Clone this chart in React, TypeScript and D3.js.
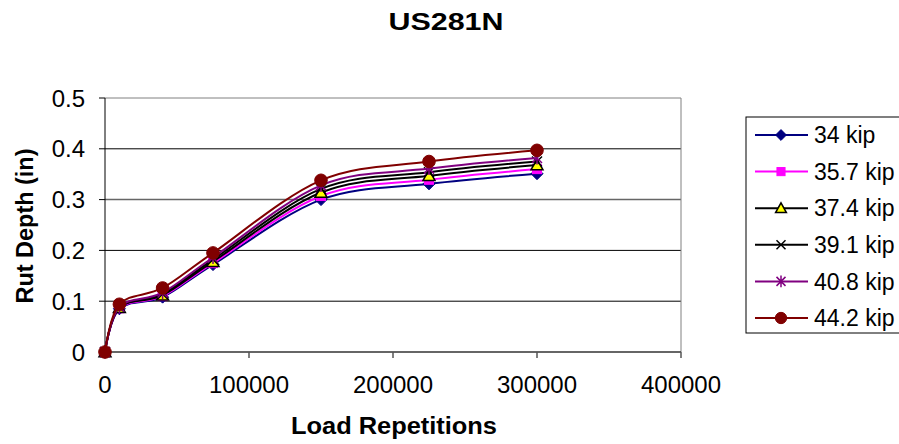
import React from "react";
import * as d3 from "d3";

const chartTitle = "US281N";
const xTitle = "Load Repetitions";
const yTitle = "Rut Depth (in)";
const reps = [0, 10000, 40000, 75000, 150000, 225000, 300000];
const seriesNames = ["34 kip", "35.7 kip", "37.4 kip", "39.1 kip", "40.8 kip", "44.2 kip"];
const kip34 = [0, 0.085, 0.108, 0.172, 0.3, 0.331, 0.351];
const kip357 = [0, 0.086, 0.11, 0.175, 0.307, 0.339, 0.36];
const kip374 = [0, 0.087, 0.112, 0.178, 0.314, 0.347, 0.368];
const kip391 = [0, 0.088, 0.114, 0.182, 0.321, 0.354, 0.375];
const kip408 = [0, 0.089, 0.117, 0.186, 0.328, 0.361, 0.382];
const kip442 = [0, 0.094, 0.126, 0.195, 0.338, 0.375, 0.397];
const xTicks = [0, 100000, 200000, 300000, 400000];
const yTicks = [0, 0.1, 0.2, 0.3, 0.4, 0.5];

const seriesValues = [kip34, kip357, kip374, kip391, kip408, kip442];
const lineColors = ["#000080", "#FF00FF", "#000000", "#000000", "#800080", "#800000"];
const markerTypes = ["diamond", "square", "triangle", "x", "star", "circle"];

const W = 899;
const H = 444;
const FONT = "'Liberation Sans', Arial, sans-serif";

function Marker({ type, x, y, color, s = 1 }: { type: string; x: number; y: number; color: string; s?: number }) {
  if (type === "diamond") {
    const r = 6 * s;
    return <path d={`M${x},${y - r}L${x + r},${y}L${x},${y + r}L${x - r},${y}Z`} fill={color} stroke={color} strokeWidth={1} />;
  }
  if (type === "square") {
    const r = 4.5 * s;
    return <rect x={x - r} y={y - r} width={2 * r} height={2 * r} fill={color} stroke={color} strokeWidth={1} />;
  }
  if (type === "triangle") {
    const r = 6 * s;
    return <path d={`M${x},${y - r}L${x + r},${y + r * 0.8}L${x - r},${y + r * 0.8}Z`} fill="#FFFF00" stroke="#000000" strokeWidth={1.5} />;
  }
  if (type === "x") {
    const r = 5 * s;
    return <path d={`M${x - r},${y - r}L${x + r},${y + r}M${x - r},${y + r}L${x + r},${y - r}`} stroke={color} strokeWidth={1.5} fill="none" />;
  }
  if (type === "star") {
    const r = 5 * s;
    return (
      <path
        d={`M${x - r},${y - r}L${x + r},${y + r}M${x - r},${y + r}L${x + r},${y - r}M${x},${y - r * 1.3}L${x},${y + r * 1.3}`}
        stroke={color}
        strokeWidth={1.5}
        fill="none"
      />
    );
  }
  const r = 6.3 * s;
  return <circle cx={x} cy={y} r={r} fill={color} stroke={color} strokeWidth={1} />;
}

export default function App() {
  const left = 105;
  const right = 681;
  const top = 98;
  const bottom = 352;
  const x = d3.scaleLinear().domain([0, 400000]).range([left, right]);
  const y = d3.scaleLinear().domain([0, 0.5]).range([bottom, top]);
  const line = d3
    .line<number>()
    .x((_, i) => x(reps[i]))
    .y((d) => y(d))
    .curve(d3.curveCatmullRom.alpha(0));

  const legendX = 746;
  const legendY = 117;
  const rowH = 36.6;

  return (
    <svg width={W} height={H} style={{ position: "absolute", left: 0, top: 0, background: "#fff" }} fontFamily={FONT}>
      <rect x={0} y={0} width={W} height={H} fill="#fff" />
      <text x={446} y={30} textAnchor="middle" fontSize={23} fontWeight="bold" textLength={115} lengthAdjust="spacingAndGlyphs">
        {chartTitle}
      </text>

      {/* gridlines */}
      {yTicks.slice(1).map((t) => (
        <line key={t} x1={left} x2={right} y1={y(t)} y2={y(t)} stroke={t === 0.5 ? "#808080" : t === 0.3 ? "#666" : "#000"} strokeWidth={t === 0.3 ? 1.5 : 1} />
      ))}
      <line x1={right} x2={right} y1={top} y2={bottom} stroke="#808080" strokeWidth={1} />

      {/* axes */}
      <line x1={left} x2={left} y1={top} y2={bottom} stroke="#000" strokeWidth={1} />
      <line x1={left} x2={right} y1={bottom} y2={bottom} stroke="#333" strokeWidth={1.5} />
      {yTicks.map((t) => (
        <g key={t}>
          <line x1={left - 6} x2={left} y1={y(t)} y2={y(t)} stroke="#000" />
          <text x={85} y={y(t)} dy="0.36em" textAnchor="end" fontSize={24}>
            {d3.format("")(t)}
          </text>
        </g>
      ))}
      {xTicks.map((t) => (
        <g key={t}>
          <line x1={x(t)} x2={x(t)} y1={bottom} y2={bottom + 6} stroke="#555" strokeWidth={1.5} />
          <text x={x(t)} y={393} textAnchor="middle" fontSize={24}>
            {t}
          </text>
        </g>
      ))}

      <text x={394} y={434} textAnchor="middle" fontSize={23} fontWeight="bold" textLength={206} lengthAdjust="spacingAndGlyphs">
        {xTitle}
      </text>
      <text transform={`translate(33,226) rotate(-90)`} textAnchor="middle" fontSize={23} fontWeight="bold" textLength={155} lengthAdjust="spacingAndGlyphs">
        {yTitle}
      </text>

      {/* series */}
      {seriesValues.map((vals, si) => (
        <g key={si}>
          <path d={line(vals) || ""} fill="none" stroke={lineColors[si]} strokeWidth={2} />
          {vals.map((v, i) => (
            <Marker key={i} type={markerTypes[si]} x={x(reps[i])} y={y(v)} color={lineColors[si]} />
          ))}
        </g>
      ))}

      {/* legend */}
      <rect x={legendX} y={legendY} width={200} height={216} fill="#fff" stroke="#000" strokeWidth={1} />
      {seriesNames.map((name, i) => {
        const cy = legendY + 18 + i * rowH;
        return (
          <g key={name}>
            <line x1={755} x2={808} y1={cy} y2={cy} stroke={lineColors[i]} strokeWidth={2} />
            <Marker type={markerTypes[i]} x={781} y={cy} color={lineColors[i]} s={0.9} />
            <text x={814} y={cy} dy="0.36em" fontSize={23}>
              {name}
            </text>
          </g>
        );
      })}
    </svg>
  );
}
